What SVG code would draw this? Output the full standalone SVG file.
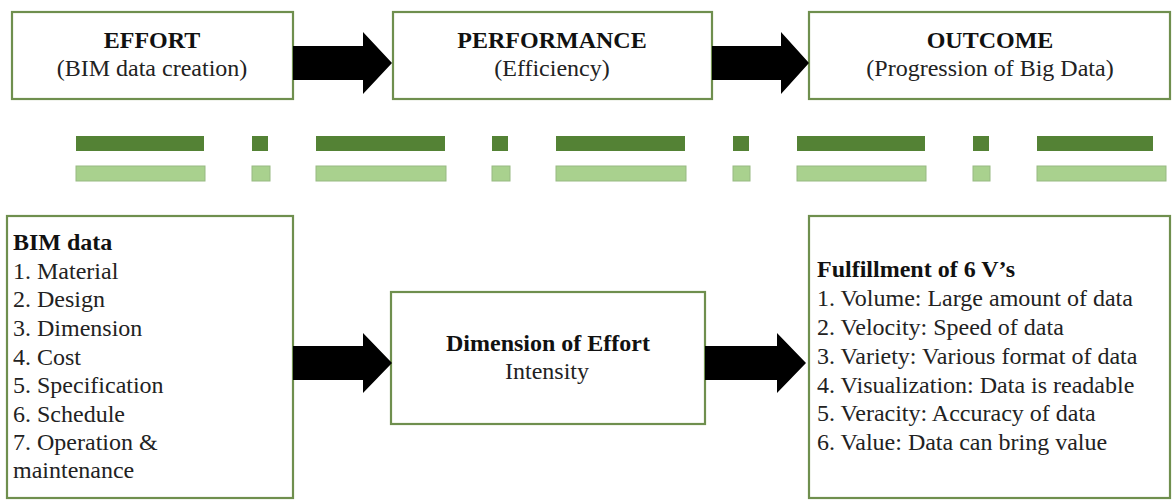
<svg xmlns="http://www.w3.org/2000/svg" width="1173" height="500" viewBox="0 0 1173 500">
<style>
.box{fill:#ffffff;stroke:#6f8f4e;stroke-width:2.2}
.t{font-size:24px;fill:#222}
.b{font-weight:bold;fill:#111}
.c{text-anchor:middle}
.dk{fill:#548235}
.lt{fill:#a9d18e;stroke:#97b982;stroke-width:1}
.arr{fill:#000}
</style>
<rect width="1173" height="500" fill="#ffffff"/>
<g font-family="'Liberation Serif', 'Times New Roman', Tinos, 'DejaVu Serif', serif">
<g id="effort">
<rect class="box" x="12" y="12" width="281" height="87"/>
<text class="t b c" x="152" y="48">EFFORT</text>
<text class="t c" x="152" y="76">(BIM data creation)</text>
</g>
<g id="performance">
<rect class="box" x="393" y="12" width="319" height="87"/>
<text class="t b c" x="552" y="48">PERFORMANCE</text>
<text class="t c" x="552" y="76">(Efficiency)</text>
</g>
<g id="outcome">
<rect class="box" x="809" y="12" width="361" height="87"/>
<text class="t b c" x="990" y="48">OUTCOME</text>
<text class="t c" x="990" y="76">(Progression of Big Data)</text>
</g>
<g id="divider">
<rect class="dk" x="76" y="136" width="128" height="15"/>
<rect class="dk" x="252" y="136" width="16" height="15"/>
<rect class="dk" x="316" y="136" width="129" height="15"/>
<rect class="dk" x="492" y="136" width="16" height="15"/>
<rect class="dk" x="556" y="136" width="129" height="15"/>
<rect class="dk" x="733" y="136" width="16" height="15"/>
<rect class="dk" x="797" y="136" width="128" height="15"/>
<rect class="dk" x="973" y="136" width="16" height="15"/>
<rect class="dk" x="1037" y="136" width="116" height="15"/>
<rect class="lt" x="76" y="166" width="129" height="15"/>
<rect class="lt" x="252" y="166" width="18" height="15"/>
<rect class="lt" x="316" y="166" width="130" height="15"/>
<rect class="lt" x="492" y="166" width="18" height="15"/>
<rect class="lt" x="556" y="166" width="130" height="15"/>
<rect class="lt" x="733" y="166" width="17" height="15"/>
<rect class="lt" x="797" y="166" width="129" height="15"/>
<rect class="lt" x="973" y="166" width="17" height="15"/>
<rect class="lt" x="1037" y="166" width="129" height="15"/>
</g>
<g id="bimdata">
<rect class="box" x="7" y="216" width="286" height="282"/>
<text class="t b" x="13" y="250">BIM data</text>
<text class="t" x="13" y="279">1. Material</text>
<text class="t" x="13" y="307">2. Design</text>
<text class="t" x="13" y="336">3. Dimension</text>
<text class="t" x="13" y="365">4. Cost</text>
<text class="t" x="13" y="393">5. Specification</text>
<text class="t" x="13" y="422">6. Schedule</text>
<text class="t" x="13" y="450">7. Operation &amp;</text>
<text class="t" x="13" y="478">maintenance</text>
</g>
<g id="dimension">
<rect class="box" x="391" y="292" width="314" height="132"/>
<text class="t b c" x="548" y="351">Dimension of Effort</text>
<text class="t c" x="547" y="379">Intensity</text>
</g>
<g id="sixv">
<rect class="box" x="809" y="216" width="361" height="282"/>
<text class="t b" x="817" y="277">Fulfillment of 6 V’s</text>
<text class="t" x="817" y="306">1. Volume: Large amount of data</text>
<text class="t" x="817" y="335">2. Velocity: Speed of data</text>
<text class="t" x="817" y="364">3. Variety: Various format of data</text>
<text class="t" x="817" y="393">4. Visualization: Data is readable</text>
<text class="t" x="817" y="421">5. Veracity: Accuracy of data</text>
<text class="t" x="817" y="450">6. Value: Data can bring value</text>
</g>
<g id="connectors">
<polygon class="arr" points="293,46 363,46 363,32 392,63 363,94 363,80 293,80"/>
<polygon class="arr" points="712,46 781,46 781,32 809,63 781,94 781,80 712,80"/>
<polygon class="arr" points="293,346 363,346 363,333 392,363 363,393 363,380 293,380"/>
<polygon class="arr" points="705,346 777,346 777,333 806,363 777,393 777,380 705,380"/>
</g>
</g>
</svg>
